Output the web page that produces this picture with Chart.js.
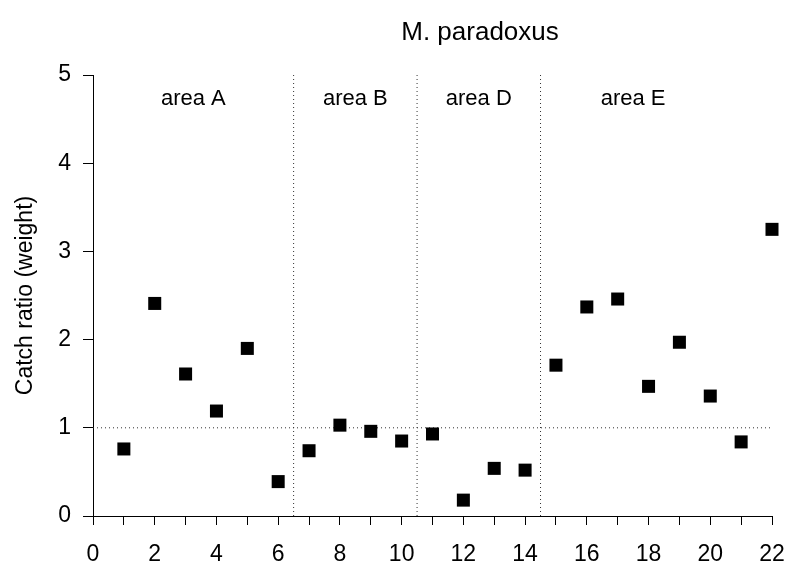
<!DOCTYPE html>
<html>
<head>
<meta charset="utf-8">
<script src="https://cdn.jsdelivr.net/npm/chart.js@4"></script>
<style>
  html, body { margin: 0; padding: 0; background: #fff; }
  #wrap { width: 790px; height: 569px; }
</style>
</head>
<body>
<div id="wrap"><canvas id="grafico" width="790" height="569"></canvas></div>
<script>
// datos
const stations = [1, 2, 3, 4, 5, 6, 7, 8, 9, 10, 11, 12, 13, 14, 15, 16, 17, 18, 19, 20, 21, 22];
const catchRatio = [0.76, 2.41, 1.61, 1.19, 1.90, 0.39, 0.74, 1.03, 0.96, 0.85, 0.93, 0.18, 0.54, 0.52,
                    1.71, 2.37, 2.46, 1.47, 1.97, 1.36, 0.84, 3.25];
const areaNames = ['area A', 'area B', 'area D', 'area E'];
const areaCenters = [3.25, 8.5, 12.5, 17.5];
const areaLabelY = 4.73;
const areaLimits = [6.5, 10.5, 14.5];
const refRatio = 1;
const xTicks = [0, 2, 4, 6, 8, 10, 12, 14, 16, 18, 20, 22];
const yTicks = [0, 1, 2, 3, 4, 5];

const FONT = '"Liberation Sans", Arial, Helvetica, sans-serif';

let puntos = stations.map((s, i) => ({ x: s, y: catchRatio[i] }));

let lineasDataset = areaLimits.map(v => ({
    type: 'scatter',
    data: [{ x: v, y: yTicks[0] }, { x: v, y: yTicks[yTicks.length - 1] }],
    showLine: true,
    borderColor: '#333',
    borderWidth: 1,
    borderDash: [1, 3],
    pointRadius: 0,
    order: 2
}));

lineasDataset.push({
    type: 'scatter',
    data: [{ x: xTicks[0], y: refRatio }, { x: xTicks[xTicks.length - 1], y: refRatio }],
    showLine: true,
    borderColor: '#333',
    borderWidth: 1,
    borderDash: [1, 3],
    pointRadius: 0,
    order: 2
});

const textos = {
    id: 'textos',
    afterDraw(chart) {
        const ctx = chart.ctx;
        const x = chart.scales.x;
        const y = chart.scales.y;
        ctx.save();
        ctx.fillStyle = '#000';
        ctx.textAlign = 'center';
        ctx.textBaseline = 'middle';
        ctx.font = '22px ' + FONT;
        areaNames.forEach((n, i) => {
            ctx.fillText(n, x.getPixelForValue(areaCenters[i]), y.getPixelForValue(areaLabelY));
        });
        // titulo
        ctx.font = '26px ' + FONT;
        ctx.fillText('M. paradoxus', 480, 33);
        ctx.restore();
    }
};

const config = {
    type: 'scatter',
    data: {
        datasets: [
            {
                label: 'M. paradoxus',
                data: puntos,
                pointStyle: 'rect',
                pointRadius: 9.2,
                pointHoverRadius: 9.2,
                backgroundColor: '#000',
                borderWidth: 0,
                clip: false,
                order: 1
            },
            ...lineasDataset
        ]
    },
    options: {
        responsive: false,
        animation: false,
        devicePixelRatio: 1,
        layout: {
            padding: { left: 0, top: 75, right: 18, bottom: 0 }
        },
        plugins: {
            legend: { display: false },
            tooltip: { enabled: false },
            title: { display: false }
        },
        scales: {
            x: {
                type: 'linear',
                min: 0,
                max: 22,
                afterBuildTicks: (s) => { s.ticks = stations.concat([0]).sort((a, b) => a - b).map(v => ({ value: v })); },
                afterFit: (s) => { s.height = 53; s.paddingLeft = 0; s.paddingRight = 0; },
                grid: {
                    drawOnChartArea: false,
                    drawTicks: true,
                    tickLength: 9,
                    color: '#000'
                },
                border: { display: true, color: '#000', width: 1 },
                ticks: {
                    color: '#000',
                    padding: 16,
                    maxRotation: 0,
                    autoSkip: false,
                    font: { family: FONT, size: 23 },
                    callback: (v) => xTicks.includes(v) ? String(v) : ''
                }
            },
            y: {
                type: 'linear',
                min: 0,
                max: 5,
                afterBuildTicks: (s) => { s.ticks = yTicks.map(v => ({ value: v })); },
                afterFit: (s) => { s.width = 93; },
                grid: {
                    drawOnChartArea: false,
                    drawTicks: true,
                    tickLength: 10,
                    color: '#000'
                },
                border: { display: true, color: '#000', width: 1 },
                ticks: {
                    color: '#000',
                    padding: 12,
                    font: { family: FONT, size: 23 }
                },
                title: {
                    display: true,
                    text: 'Catch ratio (weight)',
                    color: '#000',
                    padding: { top: 12, bottom: 0 },
                    font: { family: FONT, size: 23 }
                }
            }
        }
    },
    plugins: [textos]
};

const grafico = new Chart(document.getElementById('grafico'), config);
</script>
</body>
</html>
